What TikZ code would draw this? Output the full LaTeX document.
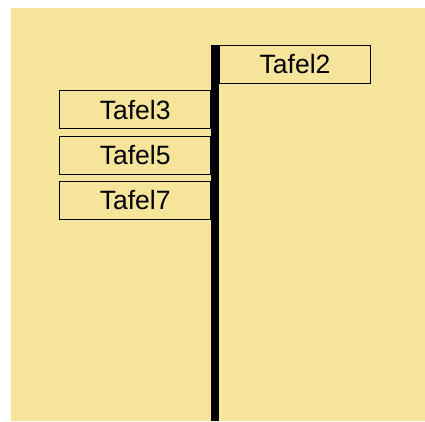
\documentclass[tikz,border=0pt]{standalone}
\usepackage{fontspec}
\setmainfont{Liberation Sans}
\definecolor{bg}{RGB}{245,228,154}
\begin{document}
\begin{tikzpicture}[x=1pt,y=-1pt,
  tafel/.style={draw=black,line width=1.3pt,fill=bg,minimum height=38pt,inner sep=0pt,font=\fontsize{26.5}{30}\selectfont}]
\useasboundingbox (0,0) rectangle (425,421);
\fill[bg] (11,8) rectangle (425,421);
\node[tafel,minimum width=151.5pt] (t2) at (295,64.2) {Tafel2};
\node[tafel,minimum width=151.5pt] (t3) at (135.2,109.7) {Tafel3};
\node[tafel,minimum width=151.5pt] (t5) at (135.2,155.2) {Tafel5};
\node[tafel,minimum width=151.5pt] (t7) at (135.2,200.5) {Tafel7};
\coordinate (ptop) at (215,45);
\coordinate (pbot) at (215,421);
\draw[line width=8pt] (ptop) -- (pbot);
\end{tikzpicture}
\end{document}
